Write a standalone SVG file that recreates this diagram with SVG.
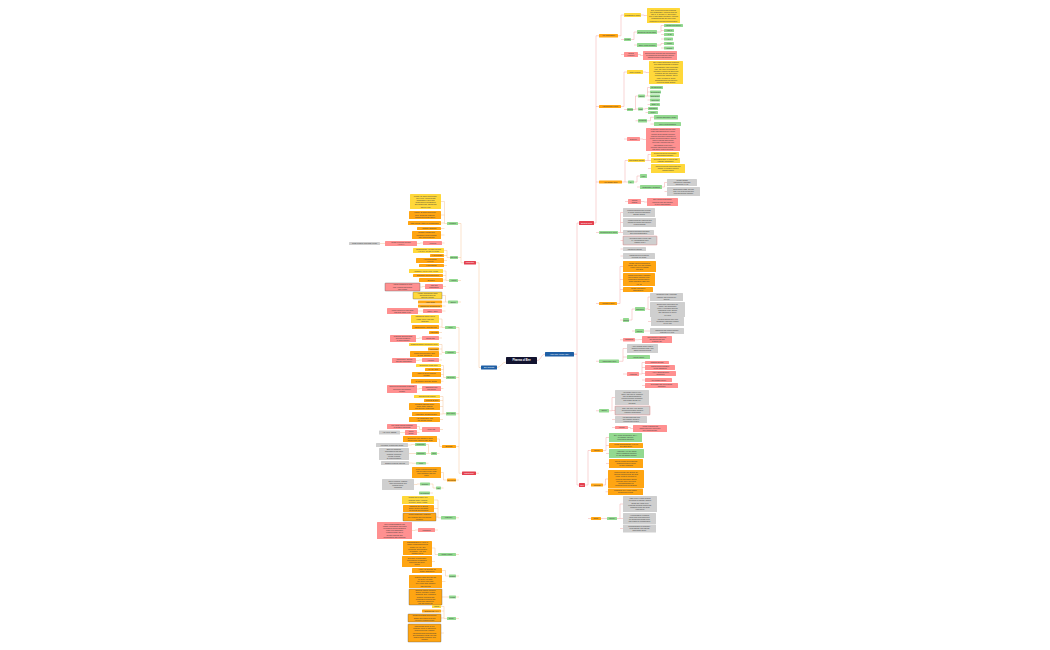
<svg xmlns="http://www.w3.org/2000/svg" width="1050" height="650" viewBox="0 0 1050 650">
<style>
rect{rx:0.6px;ry:0.6px}
.y{fill:#ffd83a}.o{fill:#ffa512}.g{fill:#93d990}.r{fill:#ff9090}.k{fill:#cfcfcf}
.rm{fill:#e4404f}.b{fill:#1f5fa5}.root{fill:#12132f}
.d{stroke:#555;stroke-width:0.35}.dr{stroke:#e06060;stroke-width:0.35}
text{font-family:"Liberation Sans",Arial,sans-serif;font-size:1.7px;fill:#3a3a3a;text-anchor:middle}
.w{fill:#fff}.s{font-size:1.5px}
.cr{fill:none;stroke:#f3a9a9;stroke-width:0.5}
.cl{fill:none;stroke:#f5c49a;stroke-width:0.5}
</style>
<rect x="0" y="0" width="1050" height="650" fill="#ffffff" rx="0"/>
<g id="connectors">
<path class="cr" d="M537 360.5C541 360.5 541 354.2 545 354.2M574 354.2H577V223H579M574 354.2H577V485H579"/>
<path class="cr" d="M594 223H596V35.75H599M596 106.5H599M596 182H599M596 232.5H599M596 303.5H599M596 361.25H599M596 410.75H599"/>
<path class="cr" d="M618 35.75H621V15H624M621 39.5H624M621 54.5H624M641 15H644V15.5H647M631 39.5H634V32H637M634 45H637M657 32H661V25.5H664M661 30.5H664M661 34.5H664M661 39H664M657 45H661V43.5H664M661 48H664M638 54.5H640.5V55.5H643"/>
<path class="cr" d="M621 106.5H624V72H627M624 109.5H627M624 139H627M643 72H646V72.5H649M633 109.5H635.5V96H638M635.5 109H638M635.5 120.75H638M645 96H647.5V87.5H650M647.5 92H650M647.5 96H650M647.5 100H650M647.5 104.5H650M643 109H645.5V108.5H648M645.5 112.5H648M647 120.75H650.5V117.25H654M650.5 124H654M640 139H643V139.5H646"/>
<path class="cr" d="M622 182H625V160.5H628M625 182H628M625 201.5H628M645 160.5H648V154.5H651M648 160.5H651M648 168.5H651M634 182H637V176H640M637 187H640M662 187H664.5V182.5H667M664.5 191.5H667M641 201.5H644V202H647"/>
<path class="cr" d="M618 232.5H620.5V212.5H623M620.5 222.5H623M620.5 232.5H623M620.5 240.5H623M620.5 249H623M620.5 256H623"/>
<path class="cr" d="M617 303.5H620V266.5H623M620 279.5H623M620 289.5H623M620 320H623M620 339.75H623M629 320H632V309H635M632 331H635M645 309H648V297H650M648 309.5H650M648 321.5H651M644 331H650M635 339.75H638.5V339.5H642"/>
<path class="cr" d="M619 361.25H623V348.5H627M623 357H627M623 374H627M639 374H642V362.5H645M642 367.5H645M642 373.5H645M642 380H645M642 385.5H645"/>
<path class="cr" d="M609 410.75H612V397.5H615M612 410.5H615M612 419.5H615M612 427.5H615M628 427.5H630.5V428.5H633"/>
<path class="cr" d="M585 485H588V450.5H591M588 518.5H591M603 450.5H606V437.5H609M606 445.5H609M606 453.5H609M606 463.5H609M603 485H605.5V479H608M605.5 491.75H608M601 518.5H607M617 518.5H620V504H623M620 518.5H623M620 528.5H623"/>
<path class="cl" d="M506 362C501.5 362 501.5 367.5 497 367.5M481 367.5H479V262.75H476M479 473.25H476"/>
<path class="cl" d="M464 262.75H461V223.5H458M461 257.5H458M461 280.5H458M461 302H458"/>
<path class="cl" d="M447 223.5H444.5V201.5H441M444.5 215H441M444.5 223H441M444.5 228.5H441M444.5 235H441M444.5 243H442M423 243H420V243.5H417M385 243.5H380"/>
<path class="cl" d="M450 257.5H447V250.5H444M447 255.5H444M447 260.5H444M447 265.5H444M449 280.5H446V271H443M446 275.5H443M446 280H443M446 286.5H443M425 286.5H422.5V287H420"/>
<path class="cl" d="M448 302H445.5V295.5H442M445.5 302H442M445.5 306H442M445.5 311H442M423 311H418"/>
<path class="cl" d="M462 473.25H459V327.5H456M459 352.5H456M459 377.5H456M459 413.75H456M459 446.5H456M459 480H456M459 517.75H456M459 554.5H456M459 576H456M459 597H456M459 618.5H456"/>
<path class="cl" d="M445 327.5H442V319H439M442 327H439M442 332.5H439M442 338H439M422 338H419V338.5H416M445 352.5H442V344.5H439M442 349H439M442 354H439M442 360H439M422 360H419V360.5H416"/>
<path class="cl" d="M446 377.5H443.5V365.5H441M443.5 369.5H441M443.5 374.5H441M443.5 381.25H441M443.5 388.5H441M422 388.5H419.5V389H417"/>
<path class="cl" d="M446 413.75H443V396.5H440M443 400.5H440M443 406.5H440M443 414H440M443 419.5H440M443 429.5H440M422 429.5H419.5V426.5H417M419.5 432.5H417M405 432.5H400"/>
<path class="cl" d="M442 446.5H439.5V439H437M439.5 453.5H437M431 453.5H428.5V444.5H426M428.5 453.5H426M428.5 463.25H426M415 444.5H411.5V445H408M416 453.5H409M416 463.25H412.5V463H409"/>
<path class="cl" d="M447 480H443.5V472.5H441M443.5 488H441M436 488H433V484H430M433 493H430M420 484H417V484.5H414"/>
<path class="cl" d="M441 517.75H438V500H434M438 508.5H434M438 517H436M438 530H435M418 530H415V530.5H412M438 554.5H435V548H432M435 561.5H432M449 576H445.5V570.5H442M445.5 581.5H442M449 597H442M447 618.5H444V606.5H441M444 611H441M444 618H441M444 633H441"/>
</g>
<g id="root"><rect class="root" x="506" y="357" width="31" height="7"/><text class="w" x="521.5" y="361.4" style="font-size:2.6px;font-weight:bold">Pharma of Bee</text></g>
<g id="hbv"><rect class="b" x="545" y="352" width="29" height="4.5"/><text class="w" x="559.5" y="354.85">Honey Bee Venom (HBV)</text></g>
<g id="products"><rect class="b" x="481" y="365.5" width="16" height="4"/><text class="w" x="489" y="368.1">Bee Products</text></g>
<g id="r1"><rect class="rm" x="579" y="221" width="15" height="4"/><text class="w s" x="586.5" y="223.55">Biological effects</text></g>
<g id="r2"><rect class="rm" x="579" y="483" width="6" height="4"/><text class="w s" x="582" y="485.55">Uses</text></g>
<g id="a1"><rect class="o" x="599" y="34" width="19" height="3.5"/><text x="608.5" y="36.35">Anti-inflammatory</text></g>
<g id="a1a"><rect class="y" x="624" y="13" width="17" height="4"/><text x="632.5" y="15.6">Mechanism of action</text></g>
<g id="a1a1"><rect class="y" x="647" y="8" width="33" height="15"/><text x="663.5" y="10.6"><tspan x="663.5">Bee venom and melittin suppress</tspan><tspan x="663.5" dy="2.2">pro-inflammatory cytokines such as</tspan><tspan x="663.5" dy="2.2">TNF-α, IL-1β and IL-6 and reduce</tspan><tspan x="663.5" dy="2.2">COX-2 and iNOS expression, lowering</tspan><tspan x="663.5" dy="2.2">prostaglandin E2 and nitric oxide</tspan><tspan x="663.5" dy="2.2">production in activated macrophages.</tspan></text></g>
<g id="a1b"><rect class="g" x="624" y="38" width="7" height="3"/><text x="627.5" y="40.1">Melittin</text></g>
<g id="a1b1"><rect class="g" x="637" y="30" width="20" height="4"/><text x="647" y="32.6">Blocks NF-κB activation</text></g>
<g id="a1b1a"><rect class="g" x="664" y="24" width="19" height="3"/><text x="673.5" y="26.1">Inhibits IKKβ activity</text></g>
<g id="a1b1b"><rect class="g" x="664" y="29" width="10" height="3"/><text x="669" y="31.1">↓ TNF-α</text></g>
<g id="a1b1c"><rect class="g" x="664" y="33" width="10" height="3"/><text x="669" y="35.1">↓ IL-1β</text></g>
<g id="a1b1d"><rect class="g" x="664" y="37.5" width="9" height="3"/><text x="668.5" y="39.6">↓ IL-6</text></g>
<g id="a1b2"><rect class="g" x="637" y="43" width="20" height="4"/><text x="647" y="45.6">Other venom peptides</text></g>
<g id="a1b2a"><rect class="g" x="664" y="42" width="10" height="3"/><text x="669" y="44.1">Apamin</text></g>
<g id="a1b2b"><rect class="g" x="664" y="46.5" width="10" height="3"/><text x="669" y="48.6">Adolapin</text></g>
<g id="a1c"><rect class="r" x="624" y="52" width="14" height="5"/><text x="631" y="54"><tspan x="631">Clinical</tspan><tspan x="631" dy="2.2">evidence</tspan></text></g>
<g id="a1c1"><rect class="r" x="643" y="51" width="34" height="9"/><text x="660" y="53.9"><tspan x="660">Reduced paw oedema and joint swelling</tspan><tspan x="660" dy="2.2">in carrageenan and adjuvant-induced</tspan><tspan x="660" dy="2.2">arthritis models in rats and mice.</tspan></text></g>
<g id="a2"><rect class="o" x="599" y="105" width="22" height="3"/><text x="610" y="107.1">Antinociceptive effect</text></g>
<g id="a2a"><rect class="y" x="627" y="70" width="16" height="4"/><text x="635" y="72.6">Mode of action</text></g>
<g id="a2a1"><rect class="y" x="649" y="61" width="34" height="23"/><text x="666" y="63.2"><tspan x="666">Bee venom acupuncture produces</tspan><tspan x="666" dy="2.2">long-lasting analgesia in models</tspan><tspan x="666" dy="2.2">of inflammatory and neuropathic</tspan><tspan x="666" dy="2.2">pain. The effect is mediated by</tspan><tspan x="666" dy="2.2">activation of spinal α2-adrenergic</tspan><tspan x="666" dy="2.2">receptors and the descending</tspan><tspan x="666" dy="2.2">noradrenergic pathway, and is</tspan><tspan x="666" dy="2.2">partly reversed by opioid</tspan><tspan x="666" dy="2.2">antagonists such as naloxone</tspan><tspan x="666" dy="2.2">in several animal studies.</tspan></text></g>
<g id="a2b"><rect class="g" x="627" y="108" width="6" height="3"/><text x="630" y="110.1">Targets</text></g>
<g id="a2b1"><rect class="g" x="638" y="94.5" width="7" height="3"/><text x="641.5" y="96.6">Spinal</text></g>
<g id="a2b1a"><rect class="g" x="650" y="86" width="13" height="3"/><text x="656.5" y="88.1">α2-adrenergic</text></g>
<g id="a2b1b"><rect class="g" x="650" y="90.5" width="11" height="3"/><text x="655.5" y="92.6">Serotonergic</text></g>
<g id="a2b1c"><rect class="g" x="650" y="94.5" width="10" height="3"/><text x="655" y="96.6">Opioidergic</text></g>
<g id="a2b1d"><rect class="g" x="650" y="98.5" width="10" height="3"/><text x="655" y="100.6">Glial cells</text></g>
<g id="a2b1e"><rect class="g" x="650" y="103" width="10" height="3"/><text x="655" y="105.1">NMDA-R</text></g>
<g id="a2b2"><rect class="g" x="638" y="107.5" width="5" height="3"/><text x="640.5" y="109.6">CNS</text></g>
<g id="a2b2a"><rect class="g" x="648" y="107" width="10" height="3"/><text x="653" y="109.1">Brainstem</text></g>
<g id="a2b2b"><rect class="g" x="648" y="111" width="10" height="3"/><text x="653" y="113.1">Cortex</text></g>
<g id="a2b3"><rect class="g" x="638" y="119" width="9" height="3.5"/><text x="642.5" y="121.35">Peripheral</text></g>
<g id="a2b3a"><rect class="g" x="654" y="115" width="24" height="4.5"/><text x="666" y="117.85">Acupoint stimulation (ST36)</text></g>
<g id="a2b3b"><rect class="g" x="654" y="122" width="27" height="4"/><text x="667.5" y="124.6">TRPV1 desensitisation</text></g>
<g id="a2c"><rect class="r" x="627" y="137" width="13" height="4"/><text x="633.5" y="139.6">Evidence</text></g>
<g id="a2c1"><rect class="r" x="646" y="128" width="34" height="23"/><text x="663" y="130.2"><tspan x="663">In formalin, writhing and hot-plate</tspan><tspan x="663" dy="2.2">tests, subcutaneous bee venom</tspan><tspan x="663" dy="2.2">injected at the Zusanli acupoint</tspan><tspan x="663" dy="2.2">reduced nociceptive behaviour in</tspan><tspan x="663" dy="2.2">a dose-dependent manner. Clinical</tspan><tspan x="663" dy="2.2">trials in patients with chronic</tspan><tspan x="663" dy="2.2">neck pain, low back pain and</tspan><tspan x="663" dy="2.2">osteoarthritis of the knee</tspan><tspan x="663" dy="2.2">reported improvement compared</tspan><tspan x="663" dy="2.2">with saline control injections.</tspan></text></g>
<g id="a3"><rect class="o" x="599" y="180.5" width="23" height="3"/><text x="610.5" y="182.6">Anti-arthritic effect</text></g>
<g id="a3a"><rect class="y" x="628" y="159" width="17" height="3"/><text x="636.5" y="161.1">Rheumatoid arthritis</text></g>
<g id="a3a1"><rect class="y" x="651" y="152" width="28" height="5"/><text x="665" y="154"><tspan x="665">Reduces synovial hyperplasia</tspan><tspan x="665" dy="2.2">and pannus formation</tspan></text></g>
<g id="a3a2"><rect class="y" x="651" y="158" width="29" height="5"/><text x="665.5" y="160"><tspan x="665.5">Decreases MMP-1, MMP-3 and</tspan><tspan x="665.5" dy="2.2">cartilage degradation</tspan></text></g>
<g id="a3a3"><rect class="y" x="651" y="164" width="34" height="9"/><text x="668" y="166.9"><tspan x="668">Improves clinical scores and joint</tspan><tspan x="668" dy="2.2">mobility in collagen-induced</tspan><tspan x="668" dy="2.2">arthritis models</tspan></text></g>
<g id="a3b"><rect class="g" x="628" y="180.5" width="6" height="3"/><text x="631" y="182.6">OA</text></g>
<g id="a3b1"><rect class="g" x="640" y="174" width="7" height="4"/><text x="643.5" y="176.6">Knee</text></g>
<g id="a3b2"><rect class="g" x="640" y="185" width="22" height="4"/><text x="651" y="187.6">Inflammatory mediators</text></g>
<g id="a3b2a"><rect class="k" x="667" y="179" width="30" height="7"/><text x="682" y="180.9"><tspan x="682">Melittin inhibits</tspan><tspan x="682" dy="2.2">chondrocyte apoptosis</tspan><tspan x="682" dy="2.2">induced by IL-1β</tspan></text></g>
<g id="a3b2b"><rect class="k" x="667" y="187" width="33" height="9"/><text x="683.5" y="189.9"><tspan x="683.5">Suppresses PGE2, NO and</tspan><tspan x="683.5" dy="2.2">COX-2 in synoviocytes and</tspan><tspan x="683.5" dy="2.2">protects articular cartilage</tspan></text></g>
<g id="a3c"><rect class="r" x="628" y="199" width="13" height="5"/><text x="634.5" y="201"><tspan x="634.5">Clinical</tspan><tspan x="634.5" dy="2.2">studies</tspan></text></g>
<g id="a3c1"><rect class="r" x="647" y="198" width="31" height="8"/><text x="662.5" y="200.4"><tspan x="662.5">Bee venom acupuncture</tspan><tspan x="662.5" dy="2.2">improved pain and function</tspan><tspan x="662.5" dy="2.2">in knee osteoarthritis</tspan></text></g>
<g id="a4"><rect class="g" x="599" y="231" width="19" height="3"/><text x="608.5" y="233.1">Neuroprotective effect</text></g>
<g id="a4a"><rect class="k" x="623" y="208" width="32" height="9"/><text x="639" y="210.9"><tspan x="639">Protects dopaminergic neurons</tspan><tspan x="639" dy="2.2">in MPTP-induced Parkinson's</tspan><tspan x="639" dy="2.2">disease models</tspan></text></g>
<g id="a4b"><rect class="k" x="623" y="218" width="33" height="9"/><text x="639.5" y="220.9"><tspan x="639.5">Apamin blocks SK channels and</tspan><tspan x="639.5" dy="2.2">enhances learning and memory</tspan><tspan x="639.5" dy="2.2">in aged animals</tspan></text></g>
<g id="a4c"><rect class="k" x="623" y="230" width="31" height="5"/><text x="638.5" y="232"><tspan x="638.5">Reduces microglial activation</tspan><tspan x="638.5" dy="2.2">and neuroinflammation</tspan></text></g>
<g id="a4d"><rect class="k dr" x="623" y="236" width="34" height="9"/><text x="640" y="238.9"><tspan x="640">Attenuates motor neuron loss</tspan><tspan x="640" dy="2.2">in ALS transgenic mice</tspan><tspan x="640" dy="2.2">(hSOD1-G93A)</tspan></text></g>
<g id="a4e"><rect class="k" x="623" y="247" width="23" height="4"/><text x="634.5" y="249.6">Alzheimer's disease</text></g>
<g id="a4f"><rect class="k" x="623" y="253" width="32" height="6"/><text x="639" y="255.5"><tspan x="639">Inhibits amyloid-β induced</tspan><tspan x="639" dy="2.2">neuronal cell death</tspan></text></g>
<g id="a5"><rect class="o" x="599" y="302" width="18" height="3"/><text x="608" y="304.1">Anticancer effect</text></g>
<g id="a5a"><rect class="o" x="623" y="261" width="33" height="11"/><text x="639.5" y="263.8"><tspan x="639.5">Melittin induces apoptosis in</tspan><tspan x="639.5" dy="2.2">breast, lung, liver and prostate</tspan><tspan x="639.5" dy="2.2">cancer cells via caspase</tspan><tspan x="639.5" dy="2.2">activation</tspan></text></g>
<g id="a5b"><rect class="o" x="623" y="273" width="32" height="13"/><text x="639" y="275.7"><tspan x="639">Inhibits proliferation, migration</tspan><tspan x="639" dy="2.2">and invasion of tumour cells;</tspan><tspan x="639" dy="2.2">suppresses angiogenesis by</tspan><tspan x="639" dy="2.2">down-regulating VEGF and</tspan><tspan x="639" dy="2.2">HIF-1α</tspan></text></g>
<g id="a5c"><rect class="o" x="623" y="287" width="30" height="5"/><text x="638" y="289"><tspan x="638">Melittin-conjugated</tspan><tspan x="638" dy="2.2">nanoparticles</tspan></text></g>
<g id="a5d"><rect class="g" x="623" y="318" width="6" height="4"/><text x="626" y="320.6">Targets</text></g>
<g id="a5d1"><rect class="g" x="635" y="307" width="10" height="4"/><text x="640" y="309.6">Signalling</text></g>
<g id="a5d1a"><rect class="k" x="650" y="293" width="33" height="8"/><text x="666.5" y="295.4"><tspan x="666.5">Inhibits the PI3K/Akt/mTOR</tspan><tspan x="666.5" dy="2.2">pathway and reduces cell</tspan><tspan x="666.5" dy="2.2">survival</tspan></text></g>
<g id="a5d1b"><rect class="k" x="650" y="302" width="35" height="15"/><text x="667.5" y="304.6"><tspan x="667.5">Blocks Rac1-dependent cell</tspan><tspan x="667.5" dy="2.2">motility and suppresses</tspan><tspan x="667.5" dy="2.2">MMP-9 expression through</tspan><tspan x="667.5" dy="2.2">inactivation of NF-κB and</tspan><tspan x="667.5" dy="2.2">JNK signalling in cancer</tspan><tspan x="667.5" dy="2.2">cell lines</tspan></text></g>
<g id="a5d1c"><rect class="k" x="651" y="317" width="33" height="9"/><text x="667.5" y="319.9"><tspan x="667.5">Activates calcium influx and</tspan><tspan x="667.5" dy="2.2">membrane disruption leading</tspan><tspan x="667.5" dy="2.2">to cell lysis</tspan></text></g>
<g id="a5d2"><rect class="g" x="635" y="329" width="9" height="4"/><text x="639.5" y="331.6">Immune</text></g>
<g id="a5d2a"><rect class="k" x="650" y="328" width="34" height="6"/><text x="667" y="330.5"><tspan x="667">Enhances anti-tumour immune</tspan><tspan x="667" dy="2.2">response of T cells</tspan></text></g>
<g id="a5e"><rect class="r" x="623" y="338" width="12" height="3.5"/><text x="629" y="340.35">Limitations</text></g>
<g id="a5e1"><rect class="r" x="642" y="336" width="30" height="7"/><text x="657" y="337.9"><tspan x="657">Non-selective cytotoxicity</tspan><tspan x="657" dy="2.2">and haemolysis limit</tspan><tspan x="657" dy="2.2">systemic use</tspan></text></g>
<g id="a6"><rect class="g" x="599" y="359.5" width="20" height="3.5"/><text x="609" y="361.85">Antimicrobial effect</text></g>
<g id="a6a"><rect class="k" x="627" y="344" width="31" height="9"/><text x="642.5" y="346.9"><tspan x="642.5">Active against Gram-positive</tspan><tspan x="642.5" dy="2.2">bacteria including MRSA and</tspan><tspan x="642.5" dy="2.2">Staphylococcus aureus</tspan></text></g>
<g id="a6b"><rect class="g" x="627" y="355" width="23" height="4"/><text x="638.5" y="357.6">Antiviral activity</text></g>
<g id="a6c"><rect class="r" x="627" y="372" width="12" height="4"/><text x="633" y="374.6">Antifungal</text></g>
<g id="a6c1"><rect class="r" x="645" y="361" width="24" height="3"/><text x="657" y="363.1">Candida albicans</text></g>
<g id="a6c2"><rect class="r" x="645" y="365" width="30" height="5"/><text x="660" y="367"><tspan x="660">Inhibits biofilm formation</tspan><tspan x="660" dy="2.2">of oral pathogens</tspan></text></g>
<g id="a6c3"><rect class="r" x="645" y="371" width="31" height="5"/><text x="660.5" y="373"><tspan x="660.5">Active against Borrelia</tspan><tspan x="660.5" dy="2.2">burgdorferi</tspan></text></g>
<g id="a6c4"><rect class="r" x="645" y="378" width="27" height="4"/><text x="658.5" y="380.6">Anti-parasitic activity</text></g>
<g id="a6c5"><rect class="r" x="645" y="383" width="33" height="5"/><text x="661.5" y="385"><tspan x="661.5">Synergism with conventional</tspan><tspan x="661.5" dy="2.2">antibiotics</tspan></text></g>
<g id="a7"><rect class="g" x="599" y="409" width="10" height="3.5"/><text x="604" y="411.35">Others</text></g>
<g id="a7a"><rect class="k" x="615" y="390" width="34" height="15"/><text x="632" y="392.6"><tspan x="632">Anti-fibrotic effect in liver,</tspan><tspan x="632" dy="2.2">kidney and lung by inhibiting</tspan><tspan x="632" dy="2.2">TGF-β1/Smad signalling;</tspan><tspan x="632" dy="2.2">reduces collagen deposition</tspan><tspan x="632" dy="2.2">and hepatic stellate cell</tspan><tspan x="632" dy="2.2">activation</tspan></text></g>
<g id="a7b"><rect class="k dr" x="615" y="406" width="35" height="9"/><text x="632.5" y="408.9"><tspan x="632.5">Skin: anti-acne, anti-ageing</tspan><tspan x="632.5" dy="2.2">and wound healing effects in</tspan><tspan x="632.5" dy="2.2">cosmetic formulations</tspan></text></g>
<g id="a7c"><rect class="k" x="615" y="416" width="32" height="7"/><text x="631" y="417.9"><tspan x="631">Anti-atherosclerotic and</tspan><tspan x="631" dy="2.2">anti-diabetic effects in</tspan><tspan x="631" dy="2.2">experimental models</tspan></text></g>
<g id="a7d"><rect class="r" x="615" y="426" width="13" height="3"/><text x="621.5" y="428.1">Adverse</text></g>
<g id="a7d1"><rect class="r" x="633" y="425" width="34" height="7"/><text x="650" y="426.9"><tspan x="650">Allergic reactions and</tspan><tspan x="650" dy="2.2">anaphylaxis may occur after</tspan><tspan x="650" dy="2.2">bee venom therapy</tspan></text></g>
<g id="b1"><rect class="o" x="591" y="449" width="12" height="3"/><text x="597" y="451.1">Therapy</text></g>
<g id="b1a"><rect class="g" x="609" y="433" width="33" height="9"/><text x="625.5" y="435.9"><tspan x="625.5">Bee venom acupuncture (BVA)</tspan><tspan x="625.5" dy="2.2">for arthritis, pain and</tspan><tspan x="625.5" dy="2.2">neurological disorders</tspan></text></g>
<g id="b1b"><rect class="o" x="609" y="443" width="34" height="5"/><text x="626" y="445"><tspan x="626">Venom immunotherapy (VIT) for</tspan><tspan x="626" dy="2.2">bee sting allergy</tspan></text></g>
<g id="b1c"><rect class="g" x="609" y="449" width="35" height="9"/><text x="626.5" y="451.9"><tspan x="626.5">Apitherapy: live bee stings</tspan><tspan x="626.5" dy="2.2">used in traditional medicine</tspan><tspan x="626.5" dy="2.2">in Asia and Eastern Europe</tspan></text></g>
<g id="b1d"><rect class="o" x="609" y="459" width="34" height="9"/><text x="626" y="461.9"><tspan x="626">Topical creams and ointments</tspan><tspan x="626" dy="2.2">containing purified venom</tspan><tspan x="626" dy="2.2">for skin conditions</tspan></text></g>
<g id="b2"><rect class="o" x="591" y="483.5" width="12" height="3"/><text x="597" y="485.6">Products</text></g>
<g id="b2a"><rect class="o" x="608" y="470" width="36" height="18"/><text x="626" y="473"><tspan x="626">Purified melittin and apamin are</tspan><tspan x="626" dy="2.2">used as research tools and drug</tspan><tspan x="626" dy="2.2">leads; venom is collected by</tspan><tspan x="626" dy="2.2">electrical stimulation without</tspan><tspan x="626" dy="2.2">killing the bees, then dried</tspan><tspan x="626" dy="2.2">and standardised for</tspan><tspan x="626" dy="2.2">pharmaceutical preparations</tspan></text></g>
<g id="b2b"><rect class="o" x="608" y="488.5" width="35" height="6.5"/><text x="625.5" y="491.25"><tspan x="625.5">Cosmetics: bee venom masks,</tspan><tspan x="625.5" dy="2.2">serums and creams</tspan></text></g>
<g id="b3"><rect class="o" x="591" y="517" width="10" height="3"/><text x="596" y="519.1">Safety</text></g>
<g id="b3a"><rect class="g" x="607" y="517" width="10" height="3"/><text x="612" y="519.1">Toxicity</text></g>
<g id="b3a1"><rect class="k" x="623" y="496" width="34" height="16"/><text x="640" y="499.1"><tspan x="640">LD50 of bee venom is about</tspan><tspan x="640" dy="2.2">2.8 mg/kg in humans; multiple</tspan><tspan x="640" dy="2.2">stings may cause toxic</tspan><tspan x="640" dy="2.2">reactions including haemolysis,</tspan><tspan x="640" dy="2.2">rhabdomyolysis and acute</tspan><tspan x="640" dy="2.2">renal failure</tspan></text></g>
<g id="b3a2"><rect class="k" x="623" y="513" width="33" height="11"/><text x="639.5" y="515.8"><tspan x="639.5">Hypersensitivity reactions</tspan><tspan x="639.5" dy="2.2">range from local swelling to</tspan><tspan x="639.5" dy="2.2">life-threatening anaphylaxis;</tspan><tspan x="639.5" dy="2.2">skin testing is recommended</tspan></text></g>
<g id="b3a3"><rect class="k" x="623" y="524.5" width="33" height="8"/><text x="639.5" y="526.9"><tspan x="639.5">Contraindicated in pregnancy,</tspan><tspan x="639.5" dy="2.2">heart disease and patients</tspan><tspan x="639.5" dy="2.2">with known allergy</tspan></text></g>
<g id="c1"><rect class="rm" x="464" y="261" width="12" height="3.5"/><text class="w s" x="470" y="263.3">Composition</text></g>
<g id="c2"><rect class="rm" x="462" y="471.5" width="14" height="3.5"/><text class="w s" x="469" y="473.8">Pharmacology</text></g>
<g id="g1"><rect class="g" x="447" y="222" width="11" height="3"/><text x="452.5" y="224.1">Peptides</text></g>
<g id="g1a"><rect class="y" x="410" y="194" width="31" height="15"/><text x="425.5" y="196.6"><tspan x="425.5">Melittin: 26 amino acid peptide,</tspan><tspan x="425.5" dy="2.2">~50% of dry venom weight;</tspan><tspan x="425.5" dy="2.2">amphipathic α-helix that</tspan><tspan x="425.5" dy="2.2">forms pores in membranes</tspan><tspan x="425.5" dy="2.2">and causes pain, haemolysis</tspan><tspan x="425.5" dy="2.2">and cell lysis</tspan></text></g>
<g id="g1b"><rect class="o" x="409" y="211" width="32" height="8"/><text x="425" y="213.4"><tspan x="425">Apamin: 18 amino acid neuro-</tspan><tspan x="425" dy="2.2">toxin, blocks SK channels,</tspan><tspan x="425" dy="2.2">crosses blood-brain barrier</tspan></text></g>
<g id="g1c"><rect class="o" x="408" y="221" width="33" height="4"/><text x="424.5" y="223.6">MCD peptide: mast cell degranulating</text></g>
<g id="g1d"><rect class="o" x="417" y="227" width="24" height="3"/><text x="429" y="229.1">Adolapin: analgesic</text></g>
<g id="g1e"><rect class="o" x="412" y="231" width="29" height="8"/><text x="426.5" y="233.4"><tspan x="426.5">Secapin, tertiapin and</tspan><tspan x="426.5" dy="2.2">procamine: minor peptides</tspan><tspan x="426.5" dy="2.2">with various activities</tspan></text></g>
<g id="g1f"><rect class="r" x="423" y="241" width="19" height="4"/><text x="432.5" y="243.6">Allergens</text></g>
<g id="g1f1"><rect class="r" x="385" y="241" width="32" height="5"/><text x="401" y="243"><tspan x="401">Melittin is a minor allergen</tspan><tspan x="401" dy="2.2">(Api m 4)</tspan></text></g>
<g id="g1f2"><rect class="k" x="349" y="242" width="31" height="3"/><text x="364.5" y="244.1">Cross-reactivity with wasp venom</text></g>
<g id="g2"><rect class="g" x="450" y="256" width="8" height="3"/><text x="454" y="258.1">Enzymes</text></g>
<g id="g2a"><rect class="y" x="413" y="248" width="31" height="5"/><text x="428.5" y="250"><tspan x="428.5">Phospholipase A2: major allergen</tspan><tspan x="428.5" dy="2.2">(Api m 1), 10-12% of venom</tspan></text></g>
<g id="g2b"><rect class="o" x="430" y="254" width="14" height="3"/><text x="437" y="256.1">Hyaluronidase</text></g>
<g id="g2c"><rect class="o" x="416" y="258" width="28" height="5"/><text x="430" y="260"><tspan x="430">Acid phosphatase</tspan><tspan x="430" dy="2.2">(Api m 3)</tspan></text></g>
<g id="g2d"><rect class="o" x="419" y="264" width="25" height="3"/><text x="431.5" y="266.1">α-glucosidase</text></g>
<g id="g3"><rect class="g" x="449" y="279" width="9" height="3"/><text x="453.5" y="281.1">Amines</text></g>
<g id="g3a"><rect class="y" x="409" y="269" width="34" height="4"/><text x="426" y="271.6">Histamine: 0.5-2% of dry venom</text></g>
<g id="g3b"><rect class="o" x="413" y="274" width="30" height="3"/><text x="428" y="276.1">Dopamine and noradrenaline</text></g>
<g id="g3c"><rect class="o" x="419" y="278" width="24" height="4"/><text x="431" y="280.6">Serotonin</text></g>
<g id="g3d"><rect class="r" x="425" y="284" width="18" height="5"/><text x="434" y="286"><tspan x="434">Pain and</tspan><tspan x="434" dy="2.2">inflammation</tspan></text></g>
<g id="g3d1"><rect class="r d" x="385" y="283" width="35" height="8"/><text x="402.5" y="285.4"><tspan x="402.5">Amines contribute to local</tspan><tspan x="402.5" dy="2.2">pain, redness and itching</tspan><tspan x="402.5" dy="2.2">after a sting</tspan></text></g>
<g id="g4"><rect class="g" x="448" y="300.5" width="10" height="3"/><text x="453" y="302.6">Others</text></g>
<g id="g4a"><rect class="y d" x="413" y="292" width="29" height="7"/><text x="427.5" y="293.9"><tspan x="427.5">Volatile compounds: alarm</tspan><tspan x="427.5" dy="2.2">pheromones such as</tspan><tspan x="427.5" dy="2.2">isopentyl acetate</tspan></text></g>
<g id="g4b"><rect class="o" x="418" y="300.5" width="24" height="3"/><text x="430" y="302.6">Amino acids</text></g>
<g id="g4c"><rect class="o" x="418" y="304.5" width="24" height="3"/><text x="430" y="306.6">Sugars and phospholipids</text></g>
<g id="g4d"><rect class="r" x="423" y="309" width="19" height="4"/><text x="432.5" y="311.6">Water (~88%)</text></g>
<g id="g4d1"><rect class="r" x="387" y="308" width="31" height="6"/><text x="402.5" y="310.5"><tspan x="402.5">Fresh venom is a clear liquid</tspan><tspan x="402.5" dy="2.2">that dries rapidly in air</tspan></text></g>
<g id="h1"><rect class="g" x="445" y="326" width="11" height="3"/><text x="450.5" y="328.1">Honey</text></g>
<g id="h1a"><rect class="y" x="411" y="315" width="28" height="8"/><text x="425" y="317.4"><tspan x="425">Antibacterial activity due to</tspan><tspan x="425" dy="2.2">H2O2, low pH and high</tspan><tspan x="425" dy="2.2">osmolarity</tspan></text></g>
<g id="h1b"><rect class="o" x="412" y="325" width="27" height="4"/><text x="425.5" y="327.6">Manuka honey: methylglyoxal</text></g>
<g id="h1c"><rect class="o" x="429" y="331" width="10" height="3"/><text x="434" y="333.1">Antioxidant</text></g>
<g id="h1d"><rect class="r" x="422" y="336" width="17" height="4"/><text x="430.5" y="338.6">Wound care</text></g>
<g id="h1d1"><rect class="r" x="390" y="335" width="26" height="7"/><text x="403" y="336.9"><tspan x="403">Promotes wound healing</tspan><tspan x="403" dy="2.2">and burn treatment</tspan><tspan x="403" dy="2.2">in clinical studies</tspan></text></g>
<g id="h2"><rect class="g" x="445" y="351" width="11" height="3"/><text x="450.5" y="353.1">Propolis</text></g>
<g id="h2a"><rect class="y" x="409" y="343" width="30" height="3"/><text x="424" y="345.1">Resinous mixture collected by bees</text></g>
<g id="h2b"><rect class="o" x="428" y="347.5" width="11" height="3"/><text x="433.5" y="349.6">Flavonoids</text></g>
<g id="h2c"><rect class="o" x="410" y="351" width="29" height="6"/><text x="424.5" y="353.5"><tspan x="424.5">Caffeic acid phenethyl ester</tspan><tspan x="424.5" dy="2.2">(CAPE), artepillin C</tspan></text></g>
<g id="h2d"><rect class="r" x="422" y="358" width="17" height="4"/><text x="430.5" y="360.6">Activities</text></g>
<g id="h2d1"><rect class="r" x="392" y="358" width="24" height="5"/><text x="404" y="360"><tspan x="404">Antimicrobial, antiviral</tspan><tspan x="404" dy="2.2">and anti-inflammatory</tspan></text></g>
<g id="h3"><rect class="g" x="446" y="376" width="10" height="3"/><text x="451" y="378.1">Royal jelly</text></g>
<g id="h3a"><rect class="y" x="416" y="364" width="25" height="3"/><text x="428.5" y="366.1">Secreted by nurse bees</text></g>
<g id="h3b"><rect class="o" x="425" y="368" width="16" height="3"/><text x="433" y="370.1">10-HDA acid</text></g>
<g id="h3c"><rect class="o" x="412" y="372" width="29" height="5"/><text x="426.5" y="374"><tspan x="426.5">Major royal jelly proteins</tspan><tspan x="426.5" dy="2.2">(MRJPs)</tspan></text></g>
<g id="h3d"><rect class="o" x="411" y="379" width="30" height="4.5"/><text x="426" y="381.85">B vitamins, minerals, sugars</text></g>
<g id="h3e"><rect class="r" x="422" y="386" width="19" height="5"/><text x="431.5" y="388"><tspan x="431.5">Estrogenic and</tspan><tspan x="431.5" dy="2.2">anti-ageing</tspan></text></g>
<g id="h3e1"><rect class="r" x="387" y="385" width="30" height="8"/><text x="402" y="387.4"><tspan x="402">Improves menopausal symptoms,</tspan><tspan x="402" dy="2.2">lipid profile and immune</tspan><tspan x="402" dy="2.2">function</tspan></text></g>
<g id="h4"><rect class="g" x="446" y="412" width="10" height="3.5"/><text x="451" y="414.35">Bee pollen</text></g>
<g id="h4a"><rect class="y" x="414" y="395" width="26" height="3"/><text x="427" y="397.1">Collected from flowers</text></g>
<g id="h4b"><rect class="o" x="424" y="399" width="16" height="3"/><text x="432" y="401.1">Proteins 20-30%</text></g>
<g id="h4c"><rect class="o" x="409" y="403" width="31" height="7"/><text x="424.5" y="404.9"><tspan x="424.5">Contains essential amino</tspan><tspan x="424.5" dy="2.2">acids, lipids, vitamins</tspan><tspan x="424.5" dy="2.2">and phenolic compounds</tspan></text></g>
<g id="h4d"><rect class="o" x="412" y="412" width="28" height="4"/><text x="426" y="414.6">Antioxidant, hepatoprotective</text></g>
<g id="h4e"><rect class="o" x="409" y="417" width="31" height="5"/><text x="424.5" y="419"><tspan x="424.5">Anti-inflammatory and</tspan><tspan x="424.5" dy="2.2">anti-allergic effects</tspan></text></g>
<g id="h4f"><rect class="r" x="422" y="427" width="18" height="5"/><text x="431" y="430.1">Allergy risk</text></g>
<g id="h4f1"><rect class="r" x="387" y="424" width="30" height="5"/><text x="402" y="426"><tspan x="402">May cause allergic reactions</tspan><tspan x="402" dy="2.2">in sensitive individuals</tspan></text></g>
<g id="h4f2"><rect class="r" x="405" y="430" width="12" height="5"/><text x="411" y="432"><tspan x="411">Pollen</tspan><tspan x="411" dy="2.2">allergy</tspan></text></g>
<g id="h4f2a"><rect class="k" x="379" y="430.5" width="21" height="4"/><text x="389.5" y="433.1">Hay fever, asthma</text></g>
<g id="h5"><rect class="o" x="442" y="445" width="14" height="3"/><text x="449" y="447.1">Beeswax</text></g>
<g id="h5a"><rect class="o" x="403" y="436" width="34" height="6"/><text x="420" y="438.5"><tspan x="420">Secreted by wax glands of young</tspan><tspan x="420" dy="2.2">worker bees; esters of fatty acids</tspan></text></g>
<g id="h5b"><rect class="g" x="431" y="452" width="6" height="3"/><text x="434" y="454.1">Uses</text></g>
<g id="h5b1"><rect class="g" x="415" y="443" width="11" height="3"/><text x="420.5" y="445.1">Cosmetics</text></g>
<g id="h5b1a"><rect class="k" x="376" y="443" width="32" height="4"/><text x="392" y="445.6">Lip balms, creams and lotions</text></g>
<g id="h5b2"><rect class="g" x="416" y="452" width="10" height="3"/><text x="421" y="454.1">Pharmacy</text></g>
<g id="h5b2a"><rect class="k" x="379" y="448" width="30" height="12"/><text x="394" y="450.2"><tspan x="394">Base for ointments,</tspan><tspan x="394" dy="2.2">suppositories and tablet</tspan><tspan x="394" dy="2.2">coatings; controlled</tspan><tspan x="394" dy="2.2">release of drugs</tspan><tspan x="394" dy="2.2">(D-002 policosanol)</tspan></text></g>
<g id="h5b3"><rect class="g" x="416" y="462" width="10" height="2.5"/><text x="421" y="463.85">Food</text></g>
<g id="h5b3a"><rect class="k" x="381" y="461" width="28" height="4"/><text x="395" y="463.6">Coating of cheese and fruit</text></g>
<g id="h6"><rect class="o" x="447" y="478.5" width="9" height="3"/><text x="451.5" y="480.6">Bee bread</text></g>
<g id="h6a"><rect class="o" x="412" y="467" width="29" height="11"/><text x="426.5" y="469.8"><tspan x="426.5">Pollen fermented with honey</tspan><tspan x="426.5" dy="2.2">and bee saliva in the comb;</tspan><tspan x="426.5" dy="2.2">more digestible than bee</tspan><tspan x="426.5" dy="2.2">pollen</tspan></text></g>
<g id="h6b"><rect class="g" x="436" y="486.5" width="5" height="3"/><text x="438.5" y="488.6">Use</text></g>
<g id="h6b1"><rect class="g" x="420" y="482.5" width="10" height="3"/><text x="425" y="484.6">Nutrition</text></g>
<g id="h6b1a"><rect class="k" x="382" y="479" width="32" height="11"/><text x="398" y="481.8"><tspan x="398">Rich in proteins, vitamins,</tspan><tspan x="398" dy="2.2">lactic acid bacteria and</tspan><tspan x="398" dy="2.2">probiotic micro-</tspan><tspan x="398" dy="2.2">organisms</tspan></text></g>
<g id="h6b2"><rect class="g" x="419" y="491.5" width="11" height="3"/><text x="424.5" y="493.6">Anti-anaemic</text></g>
<g id="h7"><rect class="g" x="441" y="516" width="15" height="3.5"/><text x="448.5" y="518.35">Apitherapy</text></g>
<g id="h7a"><rect class="y" x="402" y="496" width="32" height="8"/><text x="418" y="498.4"><tspan x="418">Medical use of honey bee</tspan><tspan x="418" dy="2.2">products: honey, propolis,</tspan><tspan x="418" dy="2.2">royal jelly, pollen, venom</tspan></text></g>
<g id="h7b"><rect class="o" x="403" y="505" width="31" height="7"/><text x="418.5" y="506.9"><tspan x="418.5">Traditional use in ancient</tspan><tspan x="418.5" dy="2.2">Egypt, Greece and China</tspan><tspan x="418.5" dy="2.2">for wounds and infections</tspan></text></g>
<g id="h7c"><rect class="o d" x="403" y="513" width="33" height="8"/><text x="419.5" y="515.4"><tspan x="419.5">Modern apitherapy combines</tspan><tspan x="419.5" dy="2.2">bee products with conventional</tspan><tspan x="419.5" dy="2.2">medicine</tspan></text></g>
<g id="h7d"><rect class="r" x="418" y="528" width="17" height="4"/><text x="426.5" y="530.6">Limitations</text></g>
<g id="h7d1"><rect class="r" x="377" y="522" width="35" height="17"/><text x="394.5" y="524.5"><tspan x="394.5">Lack of standardisation and</tspan><tspan x="394.5" dy="2.2">variable composition depending</tspan><tspan x="394.5" dy="2.2">on botanical and geographical</tspan><tspan x="394.5" dy="2.2">origin; few randomised</tspan><tspan x="394.5" dy="2.2">controlled trials; risk of</tspan><tspan x="394.5" dy="2.2">allergic reactions and</tspan><tspan x="394.5" dy="2.2">contamination with pesticides</tspan></text></g>
<g id="h8"><rect class="g" x="438" y="553" width="18" height="3"/><text x="447" y="555.1">Quality control</text></g>
<g id="h8a"><rect class="o" x="403" y="541" width="29" height="14"/><text x="417.5" y="543.1"><tspan x="417.5">Standardisation by HPLC of</tspan><tspan x="417.5" dy="2.2">marker compounds such as</tspan><tspan x="417.5" dy="2.2">melittin, 10-HDA and</tspan><tspan x="417.5" dy="2.2">flavonoids; determination</tspan><tspan x="417.5" dy="2.2">of moisture, HMF and</tspan><tspan x="417.5" dy="2.2">diastase activity</tspan></text></g>
<g id="h8b"><rect class="o" x="402" y="556" width="30" height="11"/><text x="417" y="558.8"><tspan x="417">Detection of adulteration</tspan><tspan x="417" dy="2.2">and residues of antibiotics,</tspan><tspan x="417" dy="2.2">acaricides and heavy</tspan><tspan x="417" dy="2.2">metals</tspan></text></g>
<g id="h9"><rect class="g" x="449" y="574.5" width="7" height="3"/><text x="452.5" y="576.6">Dosage</text></g>
<g id="h9a"><rect class="o" x="412" y="568" width="30" height="5"/><text x="427" y="570"><tspan x="427">Honey: 20-50 g/day as</tspan><tspan x="427" dy="2.2">dietary supplement</tspan></text></g>
<g id="h9b"><rect class="o" x="409" y="575" width="33" height="13"/><text x="425.5" y="577.7"><tspan x="425.5">Propolis extract 200-500 mg,</tspan><tspan x="425.5" dy="2.2">royal jelly 1-3 g/day,</tspan><tspan x="425.5" dy="2.2">bee pollen 5-20 g/day;</tspan><tspan x="425.5" dy="2.2">bee venom dose adjusted</tspan><tspan x="425.5" dy="2.2">after skin test</tspan></text></g>
<g id="h10"><rect class="g" x="449" y="595.5" width="7" height="3"/><text x="452.5" y="597.6">Forms</text></g>
<g id="h10a"><rect class="o d" x="409" y="589" width="33" height="16"/><text x="425.5" y="591"><tspan x="425.5">Capsules, tablets, tinctures,</tspan><tspan x="425.5" dy="2.2">sprays, lozenges, creams,</tspan><tspan x="425.5" dy="2.2">ointments, gels, lyophilised</tspan><tspan x="425.5" dy="2.2">powders, injections and</tspan><tspan x="425.5" dy="2.2">combination products with</tspan><tspan x="425.5" dy="2.2">herbs and vitamins for</tspan><tspan x="425.5" dy="2.2">oral and topical use</tspan></text></g>
<g id="h11"><rect class="g" x="447" y="617" width="9" height="3"/><text x="451.5" y="619.1">Safety</text></g>
<g id="h11a"><rect class="y" x="432" y="605" width="9" height="3"/><text x="436.5" y="607.1">Infants</text></g>
<g id="h11b"><rect class="o" x="422" y="609.5" width="19" height="3"/><text x="431.5" y="611.6">Botulism risk &lt;1 yr</text></g>
<g id="h11c"><rect class="o d" x="408" y="614" width="33" height="8"/><text x="424.5" y="616.4"><tspan x="424.5">Contact dermatitis with propolis;</tspan><tspan x="424.5" dy="2.2">asthma and anaphylaxis with</tspan><tspan x="424.5" dy="2.2">royal jelly in atopic people</tspan></text></g>
<g id="h11d"><rect class="o d" x="408" y="624" width="33" height="18"/><text x="424.5" y="627"><tspan x="424.5">Patients with allergy to bee</tspan><tspan x="424.5" dy="2.2">products, pollen or asteraceae</tspan><tspan x="424.5" dy="2.2">should avoid use; possible</tspan><tspan x="424.5" dy="2.2">interactions with anticoagulants</tspan><tspan x="424.5" dy="2.2">and antidiabetic drugs; use with</tspan><tspan x="424.5" dy="2.2">caution during pregnancy and</tspan><tspan x="424.5" dy="2.2">lactation</tspan></text></g>
</svg>
